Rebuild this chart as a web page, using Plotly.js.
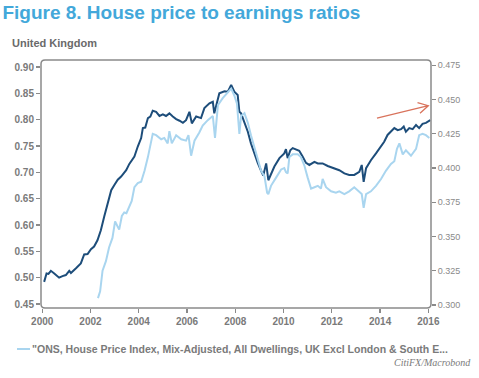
<!DOCTYPE html>
<html>
<head>
<meta charset="utf-8">
<script src="https://cdn.plot.ly/plotly-3.0.1.min.js"></script>
<style>html,body{margin:0;padding:0;background:#fff;}#chart{width:479px;height:378px;}</style>
</head>
<body>
<div id="chart"></div>
<script>
// Dark blue series (left axis)
const ukYears = [2000.08,2000.18,2000.26,2000.36,2000.50,2000.70,2000.84,2000.98,2001.12,2001.19,2001.40,2001.60,2001.74,2001.88,2002.02,2002.15,2002.29,2002.43,2002.57,2002.72,2002.86,2002.99,2003.13,2003.27,2003.48,2003.61,2003.82,2003.96,2004.10,2004.17,2004.27,2004.38,2004.48,2004.58,2004.72,2004.86,2005.00,2005.13,2005.27,2005.41,2005.55,2005.69,2005.83,2005.96,2006.10,2006.20,2006.38,2006.58,2006.72,2006.93,2007.07,2007.13,2007.34,2007.55,2007.69,2007.83,2007.96,2008.10,2008.17,2008.24,2008.38,2008.52,2008.65,2008.79,2008.93,2009.07,2009.16,2009.28,2009.37,2009.62,2009.83,2010.03,2010.10,2010.17,2010.28,2010.38,2010.52,2010.65,2010.79,2010.93,2011.07,2011.28,2011.42,2011.62,2011.83,2012.10,2012.31,2012.52,2012.72,2012.93,2013.14,2013.24,2013.32,2013.42,2013.62,2013.83,2014.04,2014.17,2014.31,2014.45,2014.59,2014.73,2014.87,2014.98,2015.07,2015.21,2015.35,2015.49,2015.62,2015.76,2015.90,2016.08];
const ukValues = [0.492,0.508,0.507,0.513,0.508,0.500,0.503,0.505,0.513,0.509,0.518,0.527,0.544,0.545,0.554,0.559,0.571,0.590,0.616,0.645,0.666,0.676,0.686,0.692,0.704,0.716,0.730,0.749,0.765,0.784,0.785,0.803,0.806,0.817,0.815,0.807,0.810,0.807,0.812,0.806,0.801,0.798,0.794,0.799,0.815,0.793,0.806,0.803,0.822,0.831,0.834,0.812,0.850,0.854,0.853,0.866,0.853,0.847,0.815,0.812,0.796,0.777,0.755,0.736,0.718,0.703,0.694,0.717,0.685,0.711,0.727,0.736,0.744,0.727,0.742,0.746,0.744,0.741,0.730,0.718,0.714,0.720,0.717,0.717,0.712,0.708,0.704,0.698,0.695,0.695,0.701,0.714,0.682,0.708,0.723,0.736,0.749,0.758,0.771,0.777,0.784,0.780,0.782,0.787,0.777,0.784,0.782,0.790,0.784,0.792,0.794,0.799];

// Light blue series (right axis)
const exLonYears = [2002.31,2002.40,2002.50,2002.64,2002.77,2002.91,2003.02,2003.19,2003.30,2003.40,2003.49,2003.60,2003.71,2003.82,2003.96,2004.10,2004.24,2004.38,2004.48,2004.58,2004.72,2004.93,2005.06,2005.20,2005.27,2005.37,2005.55,2005.76,2005.96,2006.06,2006.17,2006.31,2006.51,2006.65,2006.86,2007.00,2007.07,2007.16,2007.28,2007.48,2007.69,2007.83,2007.96,2008.07,2008.17,2008.24,2008.38,2008.52,2008.65,2008.79,2008.93,2009.07,2009.21,2009.32,2009.37,2009.48,2009.69,2009.90,2010.03,2010.10,2010.17,2010.24,2010.38,2010.59,2010.72,2010.86,2011.00,2011.14,2011.28,2011.42,2011.55,2011.62,2011.76,2011.97,2012.17,2012.31,2012.52,2012.72,2012.93,2013.14,2013.24,2013.32,2013.42,2013.62,2013.83,2014.04,2014.24,2014.45,2014.59,2014.70,2014.80,2014.94,2015.07,2015.28,2015.49,2015.62,2015.76,2015.90,2016.04];
const exLonValues = [0.305,0.310,0.325,0.332,0.342,0.349,0.361,0.355,0.365,0.3675,0.367,0.372,0.376,0.386,0.389,0.390,0.398,0.408,0.418,0.425,0.424,0.421,0.422,0.418,0.427,0.418,0.424,0.421,0.420,0.424,0.409,0.420,0.426,0.431,0.435,0.437,0.438,0.422,0.446,0.451,0.455,0.458,0.453,0.447,0.425,0.438,0.440,0.433,0.424,0.415,0.405,0.398,0.394,0.382,0.381,0.387,0.393,0.399,0.400,0.397,0.396,0.408,0.410,0.410,0.408,0.402,0.393,0.385,0.386,0.387,0.385,0.392,0.386,0.383,0.382,0.383,0.381,0.383,0.386,0.383,0.381,0.371,0.381,0.383,0.387,0.392,0.398,0.403,0.405,0.414,0.418,0.410,0.413,0.409,0.414,0.424,0.425,0.424,0.422];

const xTicks = [2000,2002,2004,2006,2008,2010,2012,2014,2016];
const yLeftTicks = [0.45,0.50,0.55,0.60,0.65,0.70,0.75,0.80,0.85,0.90];
const yRightTicks = [0.300,0.325,0.350,0.375,0.400,0.425,0.450,0.475];
const seriesName = '"ONS, House Price Index, Mix-Adjusted, All Dwellings, UK Excl London & South E...';

const gray = '#7a7a7a';
const traces = [
  {x: exLonYears, y: exLonValues, yaxis: 'y2', type: 'scatter', mode: 'lines', name: seriesName,
   line: {color: '#a9d5ef', width: 2}, showlegend: false},
  {x: ukYears, y: ukValues, type: 'scatter', mode: 'lines', name: 'United Kingdom',
   line: {color: '#1d4d7a', width: 2}, showlegend: false}
];

const layout = {
  width: 479, height: 378,
  margin: {l: 41, r: 48, t: 60, b: 70},
  paper_bgcolor: '#ffffff', plot_bgcolor: '#ffffff',
  font: {family: 'Liberation Sans, Arial, sans-serif', color: gray},
  showlegend: false,
  title: {text: 'Figure 8. House price to earnings ratios', x: 0.005, xanchor: 'left', y: 0.984, yanchor: 'top',
          font: {size: 19, color: '#43a8da', weight: 'bold', family: 'Liberation Sans, Arial, sans-serif'}},
  xaxis: {range: [1999.95, 2016.11], tickvals: xTicks, ticktext: xTicks.map(String),
          showgrid: false, zeroline: false, showline: false, ticks: 'outside', ticklen: 4, tickcolor: '#8a8a8a', tickwidth: 1.2,
          tickfont: {size: 10, color: gray, weight: 'bold'}},
  yaxis: {range: [0.4424, 0.9133], tickvals: yLeftTicks, ticktext: yLeftTicks.map(v => v.toFixed(2)),
          showgrid: false, zeroline: false, showline: false, ticks: 'outside', ticklen: 4, tickcolor: '#8a8a8a', tickwidth: 1.2,
          tickfont: {size: 10, color: gray, weight: 'bold'}},
  yaxis2: {overlaying: 'y', side: 'right', range: [0.2978, 0.4789], tickvals: yRightTicks, ticktext: yRightTicks.map(v => v.toFixed(3)),
          showgrid: false, zeroline: false, showline: false, ticks: 'outside', ticklen: 4, tickcolor: '#8a8a8a', tickwidth: 1.2,
          tickfont: {size: 9, color: '#8a8a8a'}},
  shapes: [
    {type: 'path', xref: 'paper', yref: 'paper',
     path: 'M0,0.016 L0,0.984 Q0,1 0.0103,1 L0.9897,1 Q1,1 1,0.984 L1,0.016 Q1,0 0.9897,0 L0.0103,0 Q0,0 0,0.016 Z',
     line: {color: '#8a8a8a', width: 1.5}, fillcolor: 'rgba(0,0,0,0)', layer: 'above'},
    {type: 'path', xref: 'paper', yref: 'paper',
     path: 'M0.8615,0.7661 L0.9931,0.8157 M0.9654,0.8282 L0.9931,0.8157 L0.9718,0.7851',
     line: {color: '#d9735c', width: 1.3}},
    {type: 'line', xref: 'paper', yref: 'paper', x0: -0.0615, x1: -0.0282, y0: -0.1653, y1: -0.1653,
     line: {color: '#a9d5ef', width: 2}}
  ],
  annotations: [
    {text: 'United Kingdom', xref: 'paper', yref: 'paper', x: -0.0795, y: 1.07, xanchor: 'left', yanchor: 'middle',
     showarrow: false, font: {size: 11, color: '#6a6a6a', weight: 'bold'}},
    {text: seriesName, xref: 'paper', yref: 'paper', x: -0.027, y: -0.1653, xanchor: 'left', yanchor: 'middle',
     showarrow: false, font: {size: 10.5, color: gray, weight: 'bold'}},
    {text: 'CitiFX/Macrobond', xref: 'paper', yref: 'paper', x: 1.1077, y: -0.2198, xanchor: 'right', yanchor: 'middle',
     showarrow: false, font: {size: 10, color: '#7a7a7a', style: 'italic', family: 'Liberation Serif, Times New Roman, serif'}}
  ]
};

Plotly.newPlot('chart', traces, layout, {displayModeBar: false, staticPlot: true});
</script>
</body>
</html>
